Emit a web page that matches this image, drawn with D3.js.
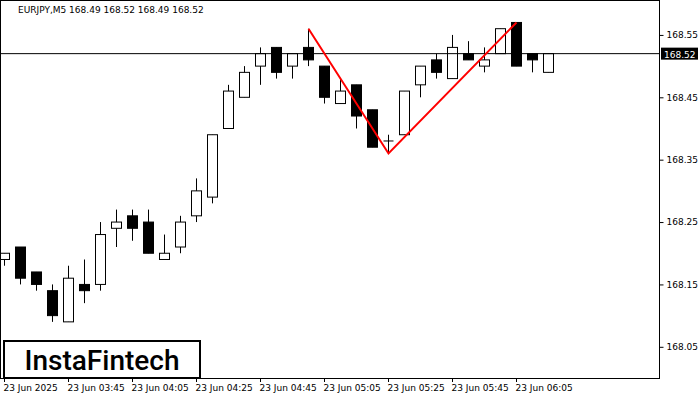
<!DOCTYPE html>
<html><head><meta charset="utf-8">
<script src="https://cdn.jsdelivr.net/npm/d3@7"></script>
<style>body{margin:0;background:#fff}svg{display:block;font-family:"DejaVu Sans",sans-serif}</style>
</head><body><svg id="c" width="700" height="400"></svg>
<script>
const times=["03:25","03:30","03:35","03:40","03:45","03:50","03:55","04:00","04:05","04:10","04:15","04:20","04:25","04:30","04:35","04:40","04:45","04:50","04:55","05:00","05:05","05:10","05:15","05:20","05:25","05:30","05:35","05:40","05:45","05:50","05:55","06:00","06:05","06:10","06:15"];
const opens =[168.19,168.21,168.17,168.14,168.09,168.15,168.15,168.24,168.26,168.25,168.19,168.21,168.26,168.29,168.40,168.45,168.50,168.53,168.50,168.53,168.50,168.44,168.47,168.43,168.38,168.39,168.47,168.51,168.48,168.52,168.50,168.52,168.57,168.52,168.49];
const highs =[168.20,168.21,168.17,168.15,168.18,168.19,168.25,168.27,168.27,168.27,168.23,168.26,168.32,168.39,168.47,168.50,168.53,168.53,168.52,168.56,168.50,168.48,168.47,168.43,168.39,168.46,168.50,168.52,168.55,168.54,168.53,168.56,168.57,168.52,168.52];
const lows  =[168.18,168.15,168.14,168.09,168.09,168.12,168.14,168.21,168.22,168.20,168.19,168.20,168.25,168.28,168.40,168.45,168.47,168.48,168.48,168.50,168.44,168.44,168.40,168.37,168.36,168.39,168.45,168.48,168.48,168.51,168.49,168.52,168.50,168.49,168.49];
const closes=[168.20,168.16,168.15,168.10,168.16,168.14,168.23,168.25,168.24,168.20,168.20,168.25,168.30,168.39,168.46,168.49,168.52,168.49,168.52,168.51,168.45,168.46,168.42,168.37,168.38,168.46,168.50,168.49,168.53,168.51,168.51,168.56,168.50,168.51,168.52];
const yTicks=[168.55,168.45,168.35,168.25,168.15,168.05];
const xLabels=[[0,"23 Jun 2025"],[4,"23 Jun 03:45"],[8,"23 Jun 04:05"],[12,"23 Jun 04:25"],[16,"23 Jun 04:45"],[20,"23 Jun 05:05"],[24,"23 Jun 05:25"],[28,"23 Jun 05:45"],[32,"23 Jun 06:05"]];
const pattern=[[19,168.56],[24,168.36],[32,168.57]];
const lastPrice=168.52;

const svg=d3.select("#c");
const W=659,H=378;
const x=d3.scaleLinear().domain([0,1]).range([4,20]);
const y=d3.scaleLinear().domain([168.0,168.606]).range([H,0]);
const g=svg.append("g");
times.forEach((t,i)=>{
  const cx=Math.round(x(i))+0.5;
  g.append("line").attr("x1",cx).attr("x2",cx).attr("y1",y(highs[i])).attr("y2",y(lows[i])).attr("stroke","#000");
  const top=y(Math.max(opens[i],closes[i])),bot=y(Math.min(opens[i],closes[i]));
  if(opens[i]===closes[i]){
    g.append("line").attr("x1",cx-5).attr("x2",cx+5).attr("y1",top).attr("y2",top).attr("stroke","#000");
  } else {
    g.append("rect").attr("x",cx-5).attr("y",top).attr("width",10).attr("height",bot-top)
     .attr("fill",closes[i]>opens[i]?"#fff":"#000").attr("stroke","#000");
  }
});
g.append("line").attr("x1",0).attr("x2",W).attr("y1",y(lastPrice)).attr("y2",y(lastPrice)).attr("stroke","#000");
g.append("path").attr("d",d3.line().x(d=>Math.round(x(d[0]))+0.5).y(d=>y(d[1]))(pattern)).attr("fill","none").attr("stroke","#f00").attr("stroke-width",2);
svg.append("rect").attr("x",0.5).attr("y",0.5).attr("width",W).attr("height",H).attr("fill","none").attr("stroke","#000");
const ya=svg.append("g").attr("transform",`translate(${W+0.5},0)`).call(d3.axisRight(y).tickValues(yTicks).tickSize(4).tickFormat(d3.format(".2f")));
ya.select(".domain").remove();
ya.selectAll("text").attr("font-size",9).attr("font-family","DejaVu Sans").attr("x",7);
svg.append("rect").attr("x",W+2).attr("y",y(lastPrice)-6).attr("width",37).attr("height",12).attr("fill","#000");
svg.append("text").attr("x",W+5).attr("y",y(lastPrice)+4).attr("font-size",9).attr("fill","#fff").text(lastPrice.toFixed(2));
const xa=svg.append("g");
xLabels.forEach(([i,l])=>{
  const px=Math.round(x(i))+0.5;
  xa.append("line").attr("x1",px).attr("x2",px).attr("y1",H).attr("y2",H+4).attr("stroke","#000");
  xa.append("text").attr("x",px-1).attr("y",H+13).attr("font-size",9).text(l);
});
svg.append("text").attr("x",18).attr("y",13).attr("font-size",9).text("EURJPY,M5  168.49 168.52 168.49 168.52");
svg.append("rect").attr("x",4).attr("y",341).attr("width",196).attr("height",37).attr("fill","#fff").attr("stroke","#000").attr("stroke-width",2);
svg.append("text").attr("x",102).attr("y",370).attr("text-anchor","middle").attr("font-size",28).attr("font-weight",500).attr("font-family","Roboto").text("InstaFintech");
</script></body></html>
